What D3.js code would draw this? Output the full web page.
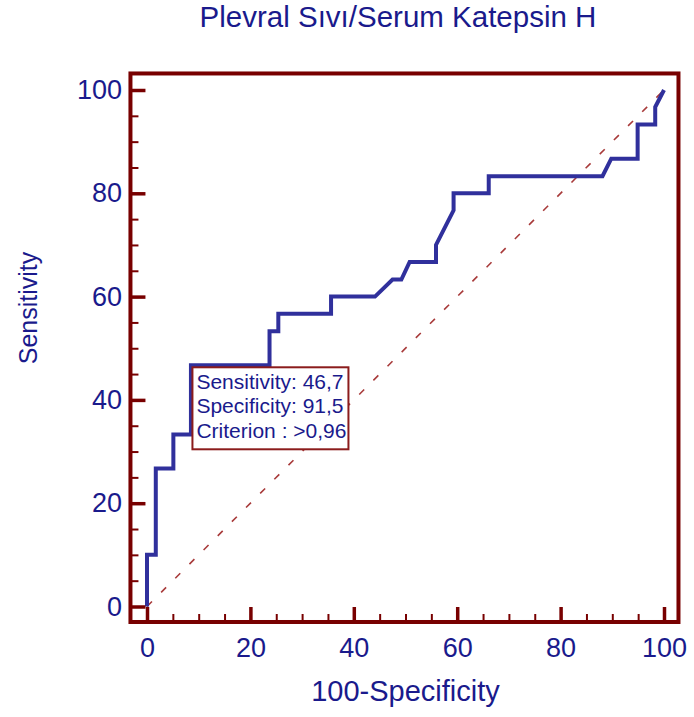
<html>
  <head>
	<title>Plevral Sıvı/Serum Katepsin H</title>
	<script src="https://cdn.jsdelivr.net/npm/d3@7" type="text/javascript" charset="utf-8"></script>
	<style>
	  body { margin: 0; background: #fff; }
	  text { font-family: "Liberation Sans", Arial, sans-serif; fill: #1a1a8c; }
	</style>
  </head>
  <body>
	<svg></svg>
  </body>
  <script type="text/javascript">
	// ROC curve points (100-Specificity, Sensitivity)
	var fpr = [0, 0, 1.7, 1.7, 5.1, 5.1, 8.5, 8.5, 23.7, 23.7, 25.4, 25.4, 35.6, 35.6, 44.1, 47.5, 49.2, 50.8, 55.9, 55.9, 59.3, 59.3, 66.1, 66.1, 88.1, 89.8, 94.9, 94.9, 98.3, 98.3, 100];
	var tpr = [0, 10, 10, 26.7, 26.7, 33.3, 33.3, 46.7, 46.7, 53.3, 53.3, 56.7, 56.7, 60, 60, 63.3, 63.3, 66.7, 66.7, 70, 76.7, 80, 80, 83.3, 83.3, 86.7, 86.7, 93.3, 93.3, 96.7, 100];
	var majorTicks = [0, 20, 40, 60, 80, 100];
	var minorTicks = d3.range(0, 101, 5);
	var cutPoint = [8.5, 46.7];
	var boxLines = ['Sensitivity: 46,7', 'Specificity: 91,5', 'Criterion : >0,96'];

	(function() {
	  var svg = d3.select('svg')
				.attr('width', 694)
				.attr('height', 717);

	  var x = d3.scaleLinear().domain([0, 100]).range([147, 664]),
		  y = d3.scaleLinear().domain([0, 100]).range([606.5, 90]);

	  // frame limits a bit outside 0..100
	  var fx0 = x(-3.2), fx1 = x(102.8), fy0 = y(-3), fy1 = y(103.2);

	  // diagonal reference line
	  svg.append('line')
		 .attr('x1', x(0)).attr('y1', y(0))
		 .attr('x2', x(100)).attr('y2', y(100))
		 .attr('stroke', '#a83a3a')
		 .attr('stroke-width', 1.6)
		 .attr('stroke-dasharray', '7,13');

	  var pts = fpr.map(function(d, i) { return [d, tpr[i]]; });
	  var line = d3.line()
				   .x(function(d) { return x(d[0]); })
				   .y(function(d) { return y(d[1]); });
	  svg.append('path')
		 .datum(pts)
		 .attr('d', line)
		 .attr('fill', 'none')
		 .attr('stroke', '#30309c')
		 .attr('stroke-width', 4)
		 .attr('stroke-linejoin', 'miter');

	  // annotation box at the cut-off point
	  var bx = x(cutPoint[0]) + 1.5, by = y(cutPoint[1]) + 2;
	  svg.append('rect')
		 .attr('x', bx).attr('y', by)
		 .attr('width', 156).attr('height', 82)
		 .attr('fill', '#fff')
		 .attr('stroke', '#8b1c1c')
		 .attr('stroke-width', 2);
	  svg.selectAll('.box-text')
		 .data(boxLines)
		 .enter()
		 .append('text')
		 .attr('class', 'box-text')
		 .attr('x', bx + 4)
		 .attr('y', function(d, i) { return by + 21.5 + i * 24.5; })
		 .style('font-size', '21px')
		 .text(function(d) { return d; });

	  // axes: ticks pointing inward, labels outside
	  var yAxis = svg.append('g')
					 .attr('transform', 'translate(' + fx0 + ',0)')
					 .call(d3.axisLeft(y).tickValues(majorTicks).tickSize(-15).tickPadding(8.5));
	  var yMinor = svg.append('g')
					  .attr('transform', 'translate(' + fx0 + ',0)')
					  .call(d3.axisLeft(y).tickValues(minorTicks).tickSize(-8).tickFormat(''));
	  var xAxis = svg.append('g')
					 .attr('transform', 'translate(0,' + fy0 + ')')
					 .call(d3.axisBottom(x).tickValues(majorTicks).tickSize(-15).tickPadding(16));
	  var xMinor = svg.append('g')
					  .attr('transform', 'translate(0,' + fy0 + ')')
					  .call(d3.axisBottom(x).tickValues(minorTicks).tickSize(-8).tickFormat(''));

	  [yAxis, yMinor, xAxis, xMinor].forEach(function(g) {
		g.select('.domain').remove();
		g.selectAll('text').attr('fill', '#1a1a8c').style('font-size', '27px').style('font-family', '"Liberation Sans", Arial, sans-serif');
	  });
	  yAxis.selectAll('line').attr('stroke', '#780000').attr('stroke-width', 3.5);
	  xAxis.selectAll('line').attr('stroke', '#780000').attr('stroke-width', 3.5);
	  yMinor.selectAll('line').attr('stroke', '#780000').attr('stroke-width', 2);
	  xMinor.selectAll('line').attr('stroke', '#780000').attr('stroke-width', 2);

	  // frame
	  svg.append('rect')
		 .attr('x', fx0).attr('y', fy1)
		 .attr('width', fx1 - fx0).attr('height', fy0 - fy1)
		 .attr('fill', 'none')
		 .attr('stroke', '#780000')
		 .attr('stroke-width', 4);

	  svg.append('text')
		 .attr('x', 398).attr('y', 27)
		 .attr('text-anchor', 'middle')
		 .style('font-size', '29.5px')
		 .text('Plevral Sıvı/Serum Katepsin H');

	  svg.append('text')
		 .attr('x', (x(0) + x(100)) / 2).attr('y', 701)
		 .attr('text-anchor', 'middle')
		 .style('font-size', '29px')
		 .text('100-Specificity');

	  svg.append('text')
		 .attr('transform', 'translate(37,308) rotate(-90)')
		 .attr('text-anchor', 'middle')
		 .style('font-size', '25px')
		 .text('Sensitivity');
	})();
  </script>
</html>
